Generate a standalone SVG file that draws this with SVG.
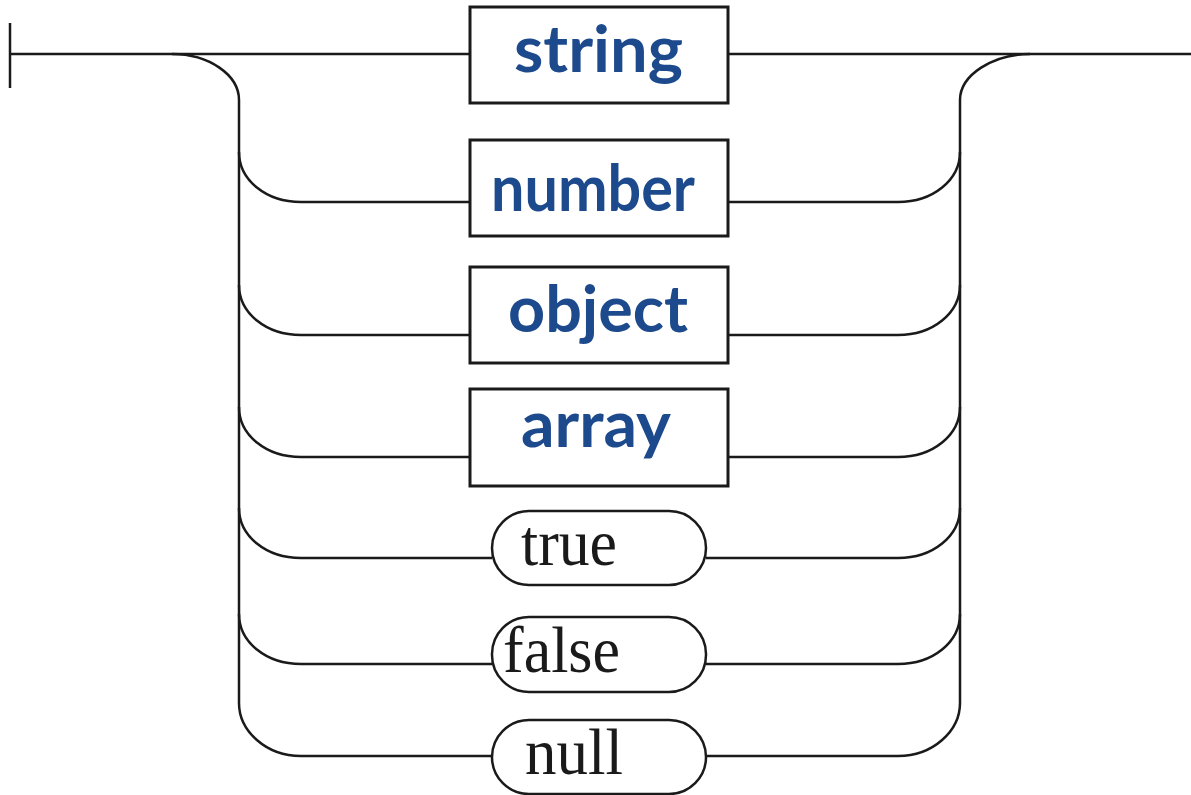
<svg xmlns="http://www.w3.org/2000/svg" width="1191" height="795" viewBox="0 0 1191 795">
<style>
.ln{fill:none;stroke:#1a1a1a;stroke-width:2.5}
.box{fill:#fff;stroke:#1a1a1a;stroke-width:3}
.pill{fill:#fff;stroke:#1a1a1a;stroke-width:2.5}
.nt{font-family:Lato,"Open Sans","Liberation Sans",sans-serif;font-weight:700;font-size:65px;fill:#1c4a8c}
.tt{font-family:"Liberation Serif","Times New Roman",serif;font-size:65px;fill:#1a1a1a}
</style>
<rect width="1191" height="795" fill="#fff"/>
<g id="connectors">
<path class="ln" d="M10,23 V88"/>
<path class="ln" d="M10,54 H470"/>
<path class="ln" d="M728,54 H1191"/>
<path class="ln" d="M172,54 C209,54 239,75 239,100 V703 C239,731 266,756 301,756 H492"/>
<path class="ln" d="M1030,54 C993,54 960,75 960,100 V703 C960,731 933,756 898,756 H706"/>
<path class="ln" d="M239,152 C239,180 266,202 301,202 H470 M728,202 H898 C933,202 960,180 960,152"/>
<path class="ln" d="M239,285 C239,313 266,335 301,335 H470 M728,335 H898 C933,335 960,313 960,285"/>
<path class="ln" d="M239,407 C239,435 266,457 301,457 H470 M728,457 H898 C933,457 960,435 960,407"/>
<path class="ln" d="M239,508 C239,536 266,558 301,558 H492 M706,558 H898 C933,558 960,536 960,508"/>
<path class="ln" d="M239,614 C239,642 266,664 301,664 H492 M706,664 H898 C933,664 960,642 960,614"/>
</g>
<g id="node-string">
<rect class="box" x="470" y="7" width="258" height="96"/>
<text class="nt" x="514" y="72" textLength="169" lengthAdjust="spacingAndGlyphs">string</text>
</g>
<g id="node-number">
<rect class="box" x="470" y="140" width="258" height="96"/>
<text class="nt" x="491" y="211" textLength="204" lengthAdjust="spacingAndGlyphs">number</text>
</g>
<g id="node-object">
<rect class="box" x="470" y="267" width="258" height="96"/>
<text class="nt" x="508" y="332" textLength="180" lengthAdjust="spacingAndGlyphs">object</text>
</g>
<g id="node-array">
<rect class="box" x="470" y="389" width="258" height="97"/>
<text class="nt" x="521" y="447" textLength="150" lengthAdjust="spacingAndGlyphs">array</text>
</g>
<g id="node-true">
<rect class="pill" x="492" y="511" width="214" height="74" rx="37"/>
<text class="tt" x="521" y="565" textLength="96" lengthAdjust="spacingAndGlyphs">true</text>
</g>
<g id="node-false">
<rect class="pill" x="492" y="617" width="214" height="75" rx="37"/>
<text class="tt" x="503" y="672" textLength="117" lengthAdjust="spacingAndGlyphs">false</text>
</g>
<g id="node-null">
<rect class="pill" x="492" y="720" width="214" height="74" rx="37"/>
<text class="tt" x="525" y="774" textLength="98" lengthAdjust="spacingAndGlyphs">null</text>
</g>
</svg>
